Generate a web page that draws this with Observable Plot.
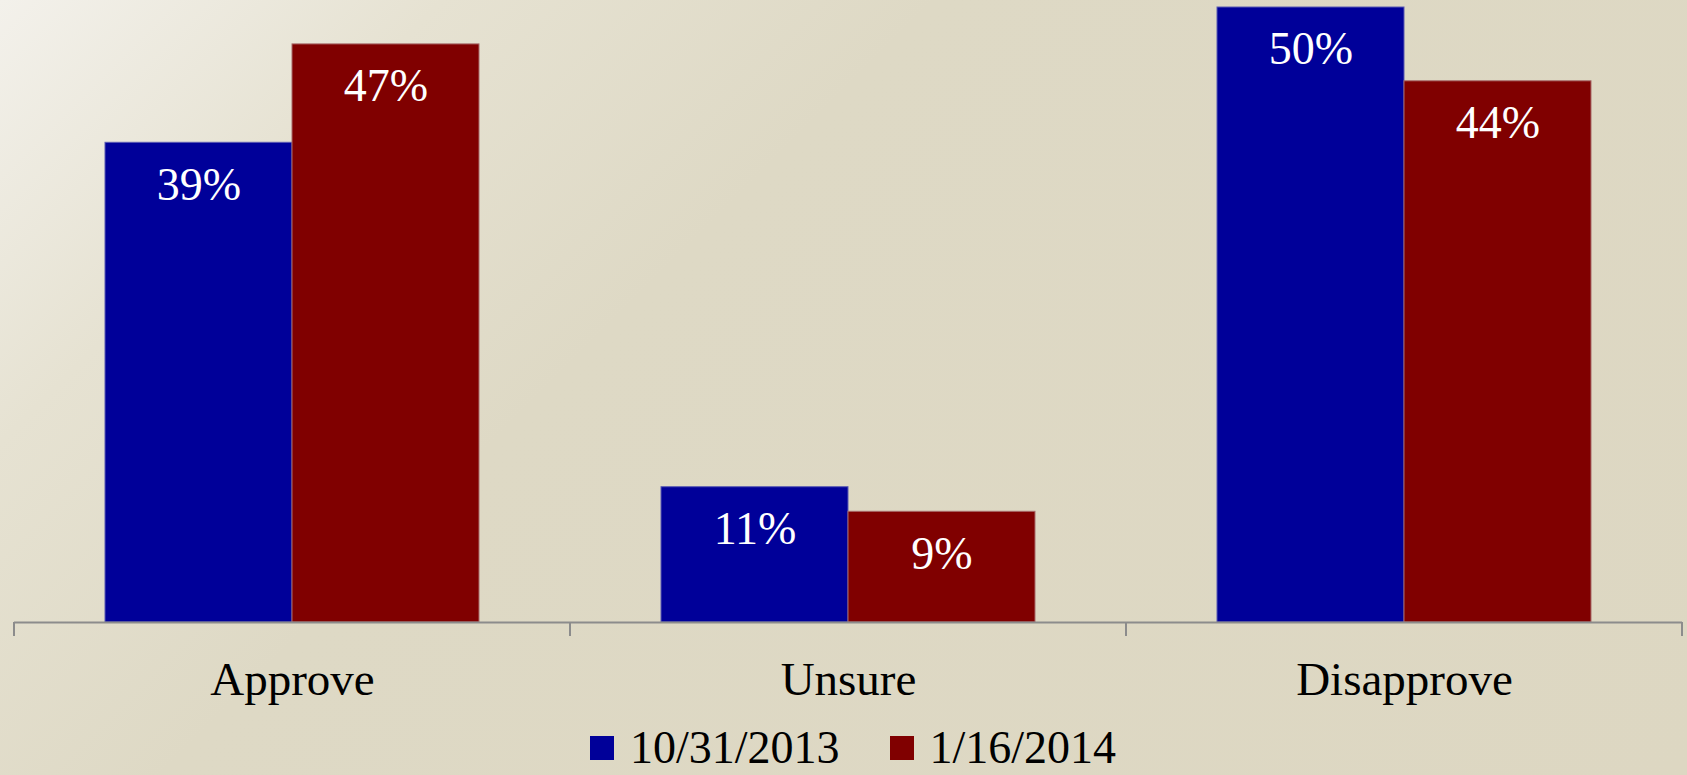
<!DOCTYPE html>
<html>
<head>
<meta charset="utf-8">
<script src="https://cdn.jsdelivr.net/npm/d3@7"></script>
<script src="https://cdn.jsdelivr.net/npm/@observablehq/plot@0.6"></script>
<style>
  html, body { margin: 0; padding: 0; }
  body {
    width: 1687px; height: 775px; overflow: hidden;
    background: linear-gradient(135deg, #f3f1eb 0%, #e6e2d2 18%, #ded9c5 38%, #ddd7c2 100%);
    font-family: "Liberation Serif", "Times New Roman", serif;
  }
  #wrap { position: relative; width: 1687px; height: 775px; }
  #legend {
    position: absolute; left: 590px; top: 728px;
    display: flex; align-items: center; font-size: 46px; line-height: 40px; color: #000;
    white-space: nowrap;
  }
  #legend .item { display: flex; align-items: center; }
  #legend .sw { width: 24px; height: 24px; margin-right: 16px; }
  #legend .item + .item { margin-left: 50px; }
</style>
</head>
<body>
<div id="wrap">
  <div id="chart"></div>
  <div id="legend"></div>
</div>
<script>
// Data
const categories = ["Approve", "Unsure", "Disapprove"];
const dates = ["10/31/2013", "1/16/2014"];
const oct2013 = [39, 11, 50];
const jan2014 = [47, 9, 44];
const colors = ["#000099", "#800000"];
const edgeColors = ["#5a5ab4", "#a86a6a"];

const series = [oct2013, jan2014];
const data = [];
categories.forEach((c, i) => {
  dates.forEach((d, j) => data.push({category: c, date: d, value: series[j][i]}));
});

const boundaryTicks = (index, scales, values, dimensions) => {
  const {marginLeft, marginRight, width} = dimensions;
  const y0 = scales.y(0);
  const g = d3.create("svg:g");
  for (const x of [marginLeft, width - marginRight]) {
    g.append("line")
      .attr("x1", x).attr("x2", x)
      .attr("y1", y0).attr("y2", y0 + 14)
      .attr("stroke", "#8c8c8c").attr("stroke-width", 2);
  }
  return g.node();
};

const chart = Plot.plot({
  width: 1687,
  height: 720,
  marginTop: 7,
  marginBottom: 98,
  marginLeft: 13,
  marginRight: 5,
  style: {background: "transparent", fontFamily: "'Liberation Serif', 'Times New Roman', serif", overflow: "visible"},
  fx: {domain: categories, padding: 0, label: null},
  x: {domain: dates, paddingInner: 0, paddingOuter: 0.483, axis: null},
  y: {domain: [0, 50], axis: null},
  color: {domain: dates, range: colors},
  marks: [
    Plot.barY(data, {fx: "category", x: "date", y: "value", fill: "date",
      stroke: d => edgeColors[dates.indexOf(d.date)], strokeWidth: 1}),
    Plot.ruleY([0], {stroke: "#8c8c8c", strokeWidth: 2}),
    boundaryTicks,
    Plot.text(data, {fx: "category", x: "date", y: "value", text: d => d.value + "%",
      fill: "white", fontSize: 46, lineAnchor: "middle", dy: 42}),
    Plot.axisFx({anchor: "bottom", tickSize: 0, tickPadding: 39, fontSize: 47, fill: "#000", label: null})
  ]
});
document.getElementById("chart").appendChild(chart);

// Legend
const legend = d3.select("#legend");
dates.forEach((d, j) => {
  const item = legend.append("div").attr("class", "item");
  item.append("div").attr("class", "sw").style("background", colors[j]);
  item.append("span").text(d);
});
</script>
</body>
</html>
